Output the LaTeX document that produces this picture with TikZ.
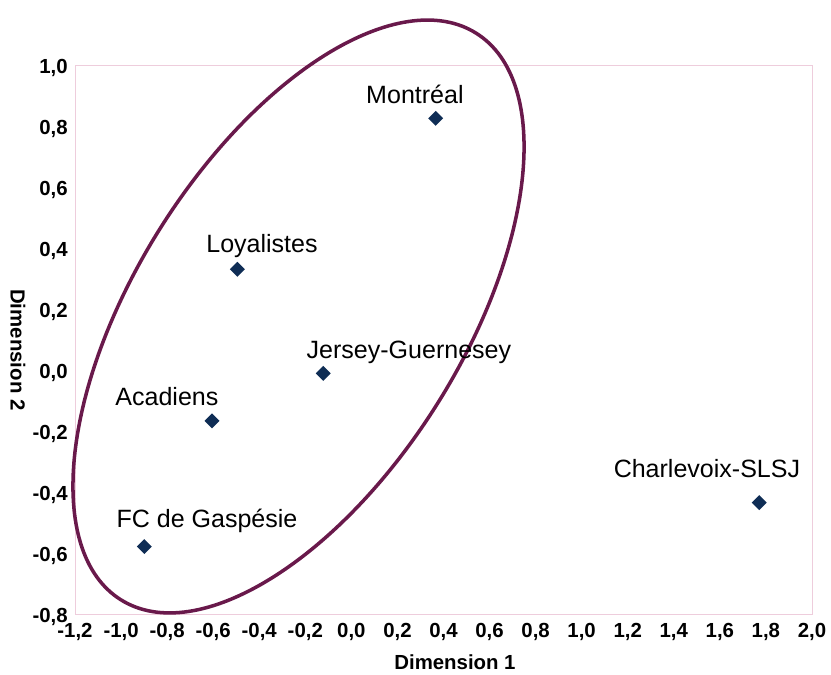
\documentclass[tikz,border=0pt]{standalone}
\usepackage{fontspec}
\setmainfont{Liberation Sans}
\usepackage{tikz}
\usetikzlibrary{shapes.geometric}

\definecolor{ringcol}{RGB}{105,25,75}
\definecolor{ptcol}{RGB}{15,45,85}
\definecolor{framecol}{RGB}{238,205,220}

\begin{document}
\begin{tikzpicture}[x=5.7575cm,y=7.625cm]
		\useasboundingbox (-1.5257,-1.0) rectangle (2.0827,1.2131);

		% plot area
		\draw [framecol, line width=0.5pt] (-1.2,-0.8) rectangle (2.0,1.0);

		\begin{scope}[every node/.style={inner sep=0pt, font=\fontsize{14.5}{16}\selectfont\bfseries}]
			\foreach \v/\t [count=\i] in {-1.2/{-1,2},-1.0/{-1,0},-0.8/{-0,8},-0.6/{-0,6},-0.4/{-0,4},-0.2/{-0,2},0.0/{0,0},0.2/{0,2},0.4/{0,4},0.6/{0,6},0.8/{0,8},1.0/{1,0},1.2/{1,2},1.4/{1,4},1.6/{1,6},1.8/{1,8},2.0/{2,0}}
				\node (xt\i) at (\v,-0.859) {\t};
			\foreach \v/\t [count=\i] in {1.0/{1,0},0.8/{0,8},0.6/{0,6},0.4/{0,4},0.2/{0,2},0.0/{0,0},-0.2/{-0,2},-0.4/{-0,4},-0.6/{-0,6},-0.8/{-0,8}}
				\node [anchor=east] (yt\i) at (-1.2304,\v-0.01) {\t};

			\node (xtitle) at (0.450,-0.957) {Dimension 1};
			\node [rotate=-90] (ytitle) at (-1.4475,0.066) {Dimension 2};
		\end{scope}

		% cluster
		\coordinate (ctr) at (-0.2295,0.1754);
		\draw [ringcol, line width=2.5pt, rotate around={57.9:(ctr)}] (ctr) ellipse [x radius=8.36cm, y radius=4.10cm];

		\begin{scope}[every node/.style={diamond, fill=ptcol, inner sep=0pt, minimum size=0.38cm}]
			\node (mtl) at (0.366,0.825) {};
			\node (loy) at (-0.495,0.330) {};
			\node (jer) at (-0.122,-0.011) {};
			\node (aca) at (-0.605,-0.167) {};
			\node (gas) at (-0.899,-0.579) {};
			\node (cha) at (1.771,-0.435) {};
		\end{scope}

		\begin{scope}[every node/.style={anchor=base, inner sep=0pt, font=\fontsize{17.8}{20}\selectfont}]
			\node (mtllab) at (0.276,0.875) {Montréal};
			\node (loylab) at (-0.388,0.384) {Loyalistes};
			\node (jerlab) at (0.250,0.039) {Jersey-Guernesey};
			\node (acalab) at (-0.801,-0.115) {Acadiens};
			\node (gaslab) at (-0.627,-0.515) {FC de Gaspésie};
			\node (chalab) at (1.544,-0.354) {Charlevoix-SLSJ};
		\end{scope}
		\end{tikzpicture}
\end{document}
